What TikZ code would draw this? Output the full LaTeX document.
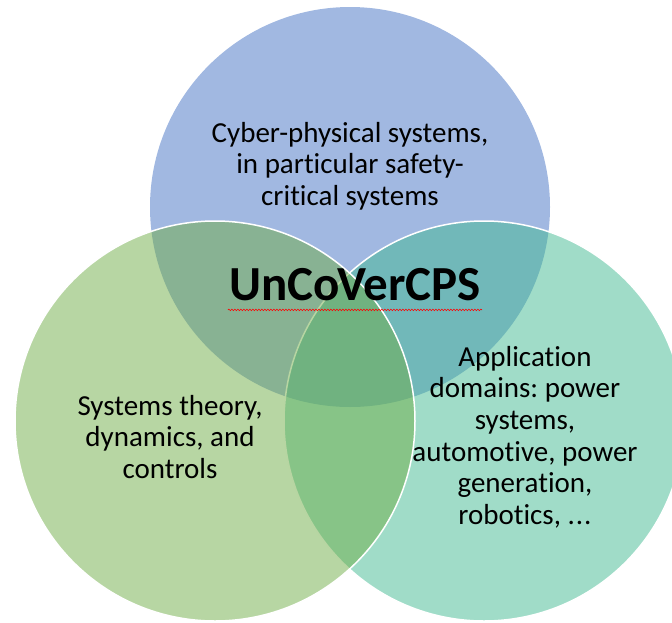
\documentclass[tikz,border=0pt]{standalone}
\usepackage{fontspec}
\setmainfont[Ligatures=NoCommon]{Carlito}
\usetikzlibrary{decorations.pathmorphing}
\frenchspacing

\definecolor{cpsblue}{HTML}{4472C4}
\definecolor{cpsgreen}{HTML}{70AD47}
\definecolor{cpsteal}{HTML}{41B991}

\begin{document}
\begin{tikzpicture}[x=1pt, y=-1pt,
  set/.style = {circle, minimum size=400pt, inner sep=0pt, fill opacity=0.5},
  txt/.style = {align=center, font=\fontsize{29}{31.6}\selectfont}]
\useasboundingbox (0,0) rectangle (672,622);
% the three fields
\node[set, fill=cpsblue] (cps) at (350,207) {};
\node[set, fill=cpsteal, draw=white, line width=1.5pt] (app) at (484,421) {};
\node[set, fill=cpsgreen, draw=white, line width=1.5pt] (sys) at (215,421) {};
% labels
\node[txt] (cpstext) at (350,166) {Cyber-physical systems,\\in particular safety-\\critical systems};
\node[txt] (systext) at (170,437) {Systems theory,\\dynamics, and\\controls};
\node[txt] (apptext) at (525,437) {Application\\domains: power\\systems,\\automotive, power\\generation,\\robotics, .\kern1pt.\kern1pt.};
\node[font=\fontsize{49}{52}\bfseries, inner sep=1pt] (title) at (355,285) {UnCoVerCPS};
\draw[red, line width=0.6pt, decorate, decoration={snake, amplitude=0.8pt, segment length=3pt}]
  ([yshift=-9pt]title.base west) -- ([yshift=-9pt]title.base east);
\end{tikzpicture}
\end{document}
